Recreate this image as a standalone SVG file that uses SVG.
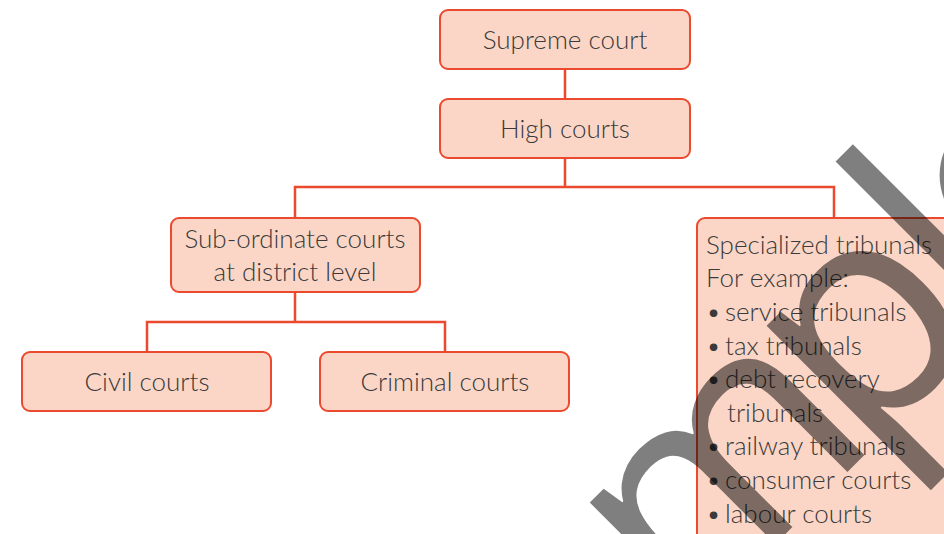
<svg xmlns="http://www.w3.org/2000/svg" width="944" height="534" viewBox="0 0 944 534">
<style>
.box{fill:#fbd6c6;stroke:#ec4a2f;stroke-width:2}
.t{font-family:Lato,"Open Sans","Liberation Sans",sans-serif;font-weight:300;font-size:26px;fill:#3a3a3a}
.c{text-anchor:middle}
.conn{fill:none;stroke:#ec4a2f;stroke-width:2.5}
.wm{font-family:"Open Sans","Liberation Sans",sans-serif;font-weight:400;font-size:300px;fill:#000;fill-opacity:0.5}
</style>
<rect width="944" height="534" fill="#fff"/>
<g id="connectors">
<path class="conn" d="M565 69V99M565 158V187M295 218V187H834V218M295 292V322M147 352V322H445V352"/>
</g>
<g id="supreme"><rect class="box" x="440" y="10" width="250" height="59" rx="8"/><text class="t c" x="565" y="49">Supreme court</text></g>
<g id="high"><rect class="box" x="440" y="99" width="250" height="59" rx="8"/><text class="t c" x="565" y="138">High courts</text></g>
<g id="subordinate"><rect class="box" x="171" y="218" width="249" height="74" rx="8"/><text class="t c" x="295" y="248">Sub-ordinate courts</text><text class="t c" x="295" y="281">at district level</text></g>
<g id="civil"><rect class="box" x="22" y="352" width="249" height="59" rx="8"/><text class="t c" x="147" y="391">Civil courts</text></g>
<g id="criminal"><rect class="box" x="320" y="352" width="249" height="59" rx="8"/><text class="t c" x="445" y="391">Criminal courts</text></g>
<g id="specialized"><rect class="box" x="697" y="218" width="260" height="330" rx="8"/>
<text class="t" x="706" y="254">Specialized tribunals</text>
<text class="t" x="706" y="287">For example:</text>
<text class="t" y="321"><tspan x="706">•</tspan><tspan x="725">service tribunals</tspan></text>
<text class="t" y="355"><tspan x="706">•</tspan><tspan x="725">tax tribunals</tspan></text>
<text class="t" y="388"><tspan x="706">•</tspan><tspan x="725">debt recovery</tspan></text>
<text class="t" x="727" y="422">tribunals</text>
<text class="t" y="455"><tspan x="706">•</tspan><tspan x="725">railway tribunals</tspan></text>
<text class="t" y="489"><tspan x="706">•</tspan><tspan x="725">consumer courts</tspan></text>
<text class="t" y="523"><tspan x="706">•</tspan><tspan x="725">labour courts</tspan></text>
</g>
<text class="wm" transform="rotate(-45)" x="-306 -126 36 286 451 501" y="933">Sample</text>
</svg>
